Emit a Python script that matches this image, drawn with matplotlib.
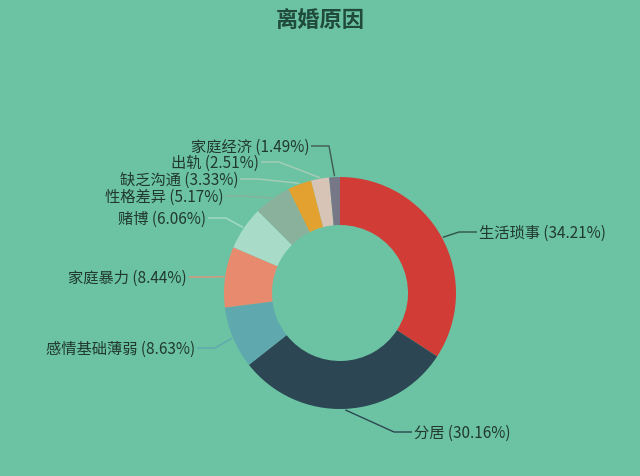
import numpy as np
import matplotlib
matplotlib.use("Agg")
import matplotlib.pyplot as plt

plt.rcParams['font.family'] = ['Noto Sans CJK SC', 'DejaVu Sans']

title = '离婚原因'
reasons = ['生活琐事', '分居', '感情基础薄弱', '家庭暴力', '赌博',
           '性格差异', '缺乏沟通', '出轨', '家庭经济']
shares = [34.21, 30.16, 8.63, 8.44, 6.06, 5.17, 3.33, 2.51, 1.49]

colors = ['#d13d36', '#2c4653', '#5fa8ae', '#e88a6e', '#a8dcc8',
          '#89b19c', '#e3a12f', '#d8c4b6', '#767888']
# leader line colours (ECharts style: slice colour, softened on bg)
line_colors = ['#2f5247', '#2c4653', '#5fa8ae', '#e3957b', '#a8dcc8',
               '#89b19c', '#a9cdb8', '#a9cdb8', '#3f5a55']
# label anchor in pixels (x of text edge, y), side the text sits on
label_pos = [(479, 233, 'left'), (414, 433, 'left'), (195, 349, 'right'),
             (187, 278, 'right'), (206, 219, 'right'), (223, 197, 'right'),
             (238, 180, 'right'), (259, 163, 'right'), (309, 147, 'right')]

BG = '#6bc3a3'
TXT = '#21392f'
W, H = 640, 477
CX, CY, R, RIN = 340, 294, 116, 68

fig = plt.figure(figsize=(6.4, 4.77), dpi=100, facecolor=BG)
ax = fig.add_axes([0, 0, 1, 1])
ax.axis('off')
ax.set_facecolor(BG)

wedges, _ = ax.pie(shares, colors=colors, startangle=90, counterclock=False,
                   center=(CX, H - CY), radius=R,
                   wedgeprops=dict(width=R - RIN, edgecolor='none'))
ax.set_xlim(0, W)
ax.set_ylim(0, H)
ax.set_aspect('equal')

for w, name, val, lc, (tx, ty, ha) in zip(wedges, reasons, shares, line_colors, label_pos):
    mid = np.deg2rad((w.theta1 + w.theta2) / 2)
    ax_x = CX + (R + 1) * np.cos(mid)
    ax_y = (H - CY) + (R + 1) * np.sin(mid)
    ty_up = H - ty
    if ha == 'left':
        xs = [ax_x, tx - 20, tx - 2]
    else:
        xs = [ax_x, tx + 20, tx + 2]
    ax.plot(xs, [ax_y, ty_up, ty_up], color=lc, lw=1, solid_capstyle='butt')
    ax.text(tx, ty_up, f'{name} ({val:.2f}%)', ha=ha, va='center',
            fontsize=11, color=TXT)

ax.text(W / 2, H - 20, title, ha='center', va='center', fontsize=16,
        fontweight='bold', color='#1f4a3c')

fig.savefig('out.png', dpi=100, facecolor=BG)
